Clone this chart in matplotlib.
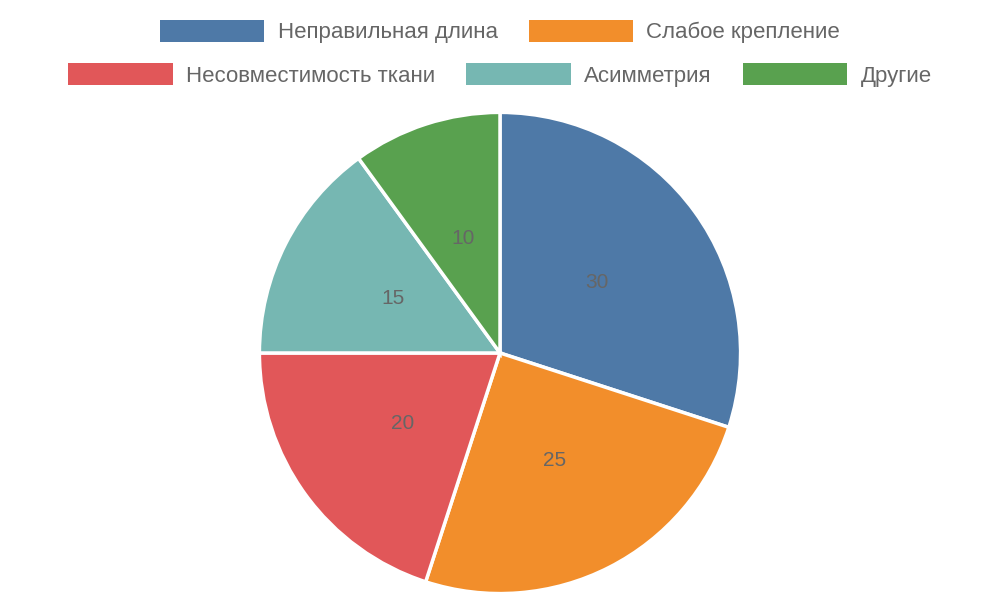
import matplotlib.pyplot as plt
from matplotlib.patches import Patch

plt.rcParams['font.family'] = ['Liberation Sans', 'DejaVu Sans']

categories = ['Неправильная длина', 'Слабое крепление', 'Несовместимость ткани', 'Асимметрия', 'Другие']
values = [30, 25, 20, 15, 10]
colors = ['#4e79a7', '#f28e2b', '#e15759', '#76b7b2', '#59a14f']

fig = plt.figure(figsize=(10, 6), dpi=100)
ax = fig.add_axes([0.257, 0.0067, 0.486, 0.81])

wedges, texts = ax.pie(values, colors=colors, startangle=90, counterclock=False,
                       labels=[str(v) for v in values], labeldistance=0.5,
                       wedgeprops=dict(edgecolor='white', linewidth=2.5))
for t in texts:
    t.set_color('#666666')
    t.set_fontsize(15)
    t.set_ha('center')
ax.set_xlim(-1.01, 1.01)
ax.set_ylim(-1.01, 1.01)
ax.set_aspect('equal')

handles = [Patch(facecolor=c) for c in colors]
kw = dict(frameon=False, fontsize=16, handlelength=4.7, handleheight=1.1,
          handletextpad=0.6, columnspacing=1.4, labelcolor='#666666', loc='center')
leg1 = fig.legend(handles[:2], categories[:2], ncol=2, bbox_to_anchor=(0.5, 0.947), **kw)
fig.legend(handles[2:], categories[2:], ncol=3, bbox_to_anchor=(0.5, 0.875), **kw)

fig.savefig('out.png', dpi=100)
